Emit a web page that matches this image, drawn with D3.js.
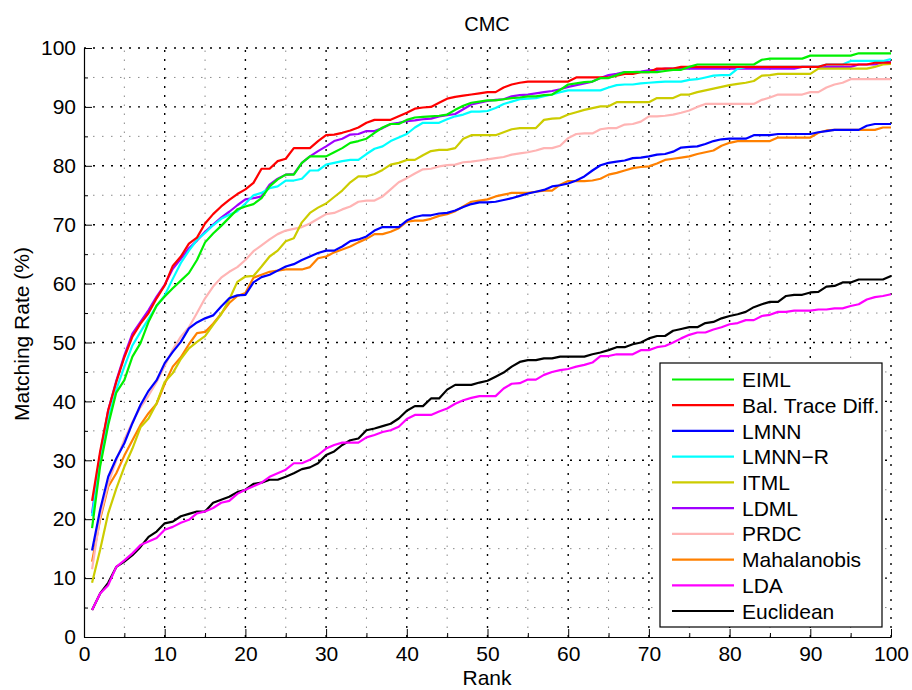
<!DOCTYPE html>
<html><head><meta charset="utf-8">
<script src="https://cdn.jsdelivr.net/npm/d3@7"></script>
<style>body{margin:0;background:#fff;} svg text{font-family:"Liberation Sans",Arial,Helvetica,sans-serif;fill:#000;}</style>
</head><body><svg id="c" width="912" height="690"></svg>
<script>
const ranks = d3.range(1, 101);
const xTickValues = [0,10,20,30,40,50,60,70,80,90,100];
const yTickValues = [0,10,20,30,40,50,60,70,80,90,100];
const minorTickValues = [5,15,25,35,45,55,65,75,85,95];

const EIML = [18.5,29.0,36.0,41.5,43.6,47.6,49.9,53.5,56.3,57.8,
59.2,60.5,61.8,64.0,67.0,68.5,69.8,71.2,72.6,73.1,
73.5,74.5,76.5,77.7,78.5,78.5,80.5,81.6,81.6,81.6,
82.3,83.0,83.9,84.2,84.6,85.6,86.5,87.1,87.1,87.8,
88.2,88.3,88.4,88.5,88.7,89.5,90.2,90.7,90.9,91.1,
91.1,91.3,91.5,91.6,91.8,91.8,92.0,92.1,92.9,93.8,
94.0,94.2,94.3,94.9,94.9,95.4,95.9,95.9,95.9,95.9,
95.9,96.1,96.3,96.3,96.8,97.2,97.2,97.2,97.2,97.2,
97.2,97.2,97.2,98.0,98.2,98.2,98.2,98.2,98.2,98.7,
98.7,98.7,98.7,98.7,98.7,99.1,99.1,99.1,99.1,99.1];
const BalTrace = [23.1,31.5,38.5,43.3,47.5,51.0,53.2,55.0,57.5,59.7,
63.0,64.6,66.8,67.8,70.2,71.8,73.1,74.2,75.2,76.0,
77.1,79.5,79.5,80.8,81.2,83.0,83.0,83.0,84.2,85.2,
85.3,85.6,86.0,86.5,87.3,87.8,87.8,87.8,88.4,89.0,
89.7,89.9,90.0,90.7,91.4,91.7,91.9,92.1,92.3,92.5,
92.5,93.3,93.8,94.1,94.3,94.3,94.3,94.3,94.3,94.3,
95.0,95.0,95.0,95.0,95.0,95.3,95.6,95.6,95.9,95.9,
96.5,96.5,96.5,96.8,96.8,96.8,96.8,96.8,96.8,96.8,
96.8,96.8,96.8,96.8,96.8,96.8,96.8,96.8,96.8,96.8,
96.8,97.2,97.2,97.2,97.2,97.2,97.2,97.5,97.5,97.5];
const LMNN = [14.7,21.6,27.2,30.3,32.9,36.3,39.4,41.8,43.6,46.5,
48.4,50.1,52.4,53.4,54.1,54.6,56.1,57.5,58.0,58.1,
60.2,61.1,61.5,62.2,62.9,63.3,64.0,64.6,65.2,65.6,
65.6,66.3,67.2,67.5,68.0,69.0,69.6,69.6,69.6,70.7,
71.3,71.6,71.6,71.9,72.0,72.4,73.0,73.5,73.8,73.8,
73.9,74.2,74.5,74.9,75.3,75.6,75.9,76.5,76.7,77.0,
77.5,78.2,79.2,80.1,80.5,80.7,80.9,81.3,81.4,81.6,
81.9,82.0,82.4,83.1,83.2,83.3,83.7,84.2,84.5,84.6,
84.6,84.6,85.2,85.2,85.2,85.4,85.4,85.4,85.4,85.4,
85.7,85.9,86.1,86.1,86.1,86.1,86.8,87.1,87.1,87.1];
const LMNNR = [20.5,30.0,37.0,42.0,45.9,49.5,51.8,54.0,56.2,58.0,
60.8,63.5,65.6,67.4,68.6,69.9,71.0,71.7,72.3,73.6,
75.0,75.4,76.2,76.5,77.5,77.5,77.8,79.2,79.2,80.2,
80.5,80.8,81.0,81.0,82.0,82.9,83.3,84.2,84.8,85.4,
86.5,87.3,87.3,87.3,87.9,88.4,88.7,89.2,89.2,89.3,
89.8,90.5,90.9,91.3,91.4,91.5,91.8,92.1,92.5,92.8,
92.8,92.8,92.8,92.8,93.3,93.7,93.8,93.8,94.0,94.1,
94.2,94.3,94.3,94.3,94.6,94.7,95.0,95.3,95.4,95.4,
96.5,96.8,96.8,96.8,96.8,96.8,96.8,96.8,96.8,96.8,
96.8,97.2,97.2,97.2,97.8,97.8,97.8,97.8,97.8,98.1];
const ITML = [9.2,14.8,21.0,25.2,28.9,32.0,35.6,37.1,39.7,43.3,
44.8,47.2,49.0,50.1,51.1,53.0,54.8,57.3,60.3,61.2,
61.3,62.9,64.6,65.6,67.2,67.7,70.4,72.0,72.9,73.6,
74.7,75.8,77.2,78.2,78.2,78.6,79.3,80.2,80.5,81.0,
81.0,81.8,82.5,82.7,82.7,83.0,84.6,85.2,85.2,85.2,
85.2,85.7,86.2,86.4,86.4,86.4,87.8,88.0,88.1,88.7,
89.1,89.5,89.8,90.1,90.1,90.8,90.8,90.8,90.8,90.8,
91.5,91.5,91.5,92.1,92.1,92.5,92.8,93.1,93.4,93.7,
93.9,94.1,94.4,95.3,95.4,95.6,95.6,95.6,95.6,95.6,
96.5,96.5,96.5,96.5,96.5,96.5,96.5,96.8,97.2,97.3];
const LDML = [21.0,31.0,38.5,43.5,47.8,51.5,53.5,55.5,57.8,59.8,
62.5,64.2,66.0,67.3,68.8,70.0,71.2,72.2,73.3,74.3,
74.5,74.8,76.8,77.8,78.5,78.6,80.5,81.6,82.5,83.3,
84.2,84.6,85.3,85.4,85.9,85.9,86.4,87.1,87.3,87.6,
87.7,87.9,88.0,88.4,88.6,88.8,89.6,90.4,90.7,91.0,
91.2,91.3,91.8,92.0,92.1,92.3,92.5,92.7,93.0,93.4,
93.7,94.0,94.3,94.9,95.4,95.6,95.9,95.9,96.0,96.2,
96.3,96.5,96.5,96.5,96.5,96.5,96.5,96.5,96.5,96.5,
96.5,96.5,96.5,96.5,96.5,96.5,96.5,96.5,96.8,96.8,
96.8,96.8,96.8,96.8,96.8,97.2,97.2,97.2,97.6,97.6];
const PRDC = [11.5,20.5,26.0,30.0,33.5,36.5,39.0,41.0,43.3,46.0,
48.8,51.0,52.6,55.0,57.5,59.5,61.0,62.0,62.8,64.0,
65.5,66.5,67.5,68.4,69.0,69.3,69.6,70.2,71.0,71.8,
72.0,72.6,73.1,73.9,74.1,74.1,74.8,76.0,77.2,77.9,
78.7,79.4,79.5,79.9,80.1,80.2,80.6,80.7,80.9,81.1,
81.3,81.5,81.9,82.1,82.3,82.6,83.0,83.0,83.4,84.7,
85.4,85.5,85.5,86.2,86.4,86.4,87.0,87.1,87.5,88.4,
88.4,88.5,88.7,89.0,89.4,90.0,90.5,90.5,90.5,90.5,
90.5,90.5,90.5,91.2,91.6,92.1,92.1,92.1,92.1,92.5,
92.5,93.3,93.8,94.1,94.7,94.7,94.7,94.7,94.7,94.7];
const Mahalanobis = [12.8,20.0,25.5,27.8,30.8,33.4,36.0,38.0,39.6,43.0,
45.9,47.5,49.7,51.6,51.8,53.2,54.9,56.7,57.9,58.4,
61.0,61.5,62.0,62.2,62.4,62.4,62.4,62.8,64.3,64.6,
65.3,65.8,66.3,67.0,67.6,68.4,68.4,68.8,69.4,70.5,
70.7,70.7,71.0,71.5,71.8,72.3,73.1,73.9,74.1,74.3,
74.8,75.1,75.4,75.4,75.4,75.6,75.8,75.8,76.8,77.4,
77.4,77.4,77.5,77.8,78.5,78.8,79.2,79.6,79.8,79.9,
80.4,81.0,81.2,81.4,81.6,82.0,82.3,82.6,83.4,83.9,
84.2,84.2,84.2,84.2,84.2,84.8,84.8,84.8,84.8,84.8,
85.6,86.0,86.1,86.1,86.1,86.1,86.1,86.1,86.5,86.5];
const LDA = [4.6,7.4,8.8,11.9,13.0,14.2,15.6,16.2,16.8,18.2,
18.7,19.4,19.9,21.0,21.3,21.9,22.8,23.1,24.3,25.0,
25.6,26.2,27.2,27.8,28.4,29.5,29.5,30.1,30.9,32.0,
32.6,33.0,33.0,33.0,33.9,34.3,34.8,35.1,35.7,37.0,
37.7,37.7,37.7,38.3,38.8,39.6,40.2,40.6,40.9,40.9,
40.9,42.2,43.0,43.1,43.7,43.7,44.5,45.0,45.3,45.5,
45.9,46.2,46.6,47.7,47.7,48.0,48.0,48.0,48.7,48.7,
49.2,49.4,50.0,50.7,51.3,51.7,51.7,52.2,52.6,53.1,
53.3,53.8,53.8,54.5,54.7,55.2,55.2,55.4,55.4,55.4,
55.6,55.6,55.8,55.8,56.2,56.5,57.3,57.7,57.9,58.2];
const Euclidean = [4.6,7.4,9.2,11.9,12.8,13.9,15.3,17.0,17.9,19.3,
19.6,20.5,20.9,21.3,21.3,22.8,23.3,23.8,24.6,25.0,
26.0,26.2,26.7,26.7,27.2,27.8,28.5,28.8,29.5,30.9,
31.5,32.6,33.4,33.7,35.1,35.4,35.8,36.2,37.1,38.4,
39.2,39.2,40.5,40.5,42.0,42.8,42.8,42.8,43.2,43.5,
44.2,44.9,45.9,46.7,47.0,47.0,47.3,47.3,47.6,47.6,
47.6,47.6,48.0,48.3,48.7,49.2,49.2,49.7,50.0,50.7,
51.1,51.1,52.0,52.3,52.6,52.6,53.3,53.5,54.1,54.5,
54.8,55.2,56.0,56.5,56.9,56.9,57.9,58.1,58.1,58.5,
58.6,59.5,59.6,60.2,60.2,60.7,60.7,60.7,60.7,61.3];

const seriesNames = ["EIML","Bal. Trace Diff.","LMNN","LMNN\u2212R","ITML","LDML","PRDC","Mahalanobis","LDA","Euclidean"];
const seriesValues = [EIML, BalTrace, LMNN, LMNNR, ITML, LDML, PRDC, Mahalanobis, LDA, Euclidean];
const seriesColors = ["#00f000","#ff0000","#0000ff","#00ffff","#cccc00","#a000ff","#ffb4b4","#ff8000","#ff00ff","#000000"];

const svg = d3.select("#c");
const x = d3.scaleLinear().domain([0, 100]).range([84, 891]);
const y = d3.scaleLinear().domain([0, 100]).range([637, 48]);
const FS = 21;

// grid: minor
const grid = svg.append("g");
grid.selectAll("line.mx").data(minorTickValues).join("line").attr("class","mx")
  .attr("x1", d => x(d)).attr("x2", d => x(d)).attr("y1", y(0)).attr("y2", y(100))
  .attr("stroke", "#8a8a8a").attr("stroke-width", 1).attr("stroke-dasharray", "1.5,7.5");
grid.selectAll("line.my").data(minorTickValues).join("line").attr("class","my")
  .attr("y1", d => y(d)).attr("y2", d => y(d)).attr("x1", x(0)).attr("x2", x(100))
  .attr("stroke", "#8a8a8a").attr("stroke-width", 1).attr("stroke-dasharray", "1.5,7.5");
// grid: major
grid.selectAll("line.gx").data(xTickValues.slice(1)).join("line").attr("class","gx")
  .attr("x1", d => x(d)).attr("x2", d => x(d)).attr("y1", y(0)).attr("y2", y(100))
  .attr("stroke", "#000").attr("stroke-width", 1.4).attr("stroke-dasharray", "2,7");
grid.selectAll("line.gy").data(yTickValues.slice(1)).join("line").attr("class","gy")
  .attr("y1", d => y(d)).attr("y2", d => y(d)).attr("x1", x(0)).attr("x2", x(100))
  .attr("stroke", "#000").attr("stroke-width", 1.4).attr("stroke-dasharray", "2,7");

// lines (reverse legend order so EIML on top)
const line = d3.line().x((d, i) => x(ranks[i])).y(d => y(d));
const order = d3.range(seriesValues.length).reverse();
svg.append("g").selectAll("path").data(order).join("path")
  .attr("d", i => line(seriesValues[i]))
  .attr("fill", "none").attr("stroke", i => seriesColors[i])
  .attr("stroke-width", 2.2).attr("stroke-linejoin", "round");

// axes
svg.append("g").attr("transform", `translate(0,${y(0)})`)
  .call(d3.axisBottom(x).tickValues(xTickValues).tickFormat(d3.format("d")).tickSizeInner(-8).tickSizeOuter(0).tickPadding(9));
const xMinor = svg.append("g").attr("transform", `translate(0,${y(0)})`)
  .call(d3.axisBottom(x).tickValues(minorTickValues).tickFormat("").tickSizeInner(-4).tickSizeOuter(0));
svg.append("g").attr("transform", `translate(${x(0)},0)`)
  .call(d3.axisLeft(y).tickValues(yTickValues).tickFormat(d3.format("d")).tickSizeInner(-8).tickSizeOuter(0).tickPadding(8));
const yMinor = svg.append("g").attr("transform", `translate(${x(0)},0)`)
  .call(d3.axisLeft(y).tickValues(minorTickValues).tickFormat("").tickSizeInner(-4).tickSizeOuter(0));
xMinor.select(".domain").remove();
yMinor.select(".domain").remove();
svg.selectAll(".domain").attr("stroke", "#000").attr("stroke-width", 1.2);
svg.selectAll(".tick line").attr("stroke", "#000");
svg.selectAll(".tick text").attr("font-size", FS).attr("font-family", "Liberation Sans, Arial, sans-serif");

// titles
svg.append("text").attr("x", 487).attr("y", 31).attr("text-anchor", "middle").attr("font-size", FS - 1).text("CMC");
svg.append("text").attr("x", 487).attr("y", 685).attr("text-anchor", "middle").attr("font-size", FS).text("Rank");
svg.append("text").attr("transform", "translate(29,334) rotate(-90)").attr("text-anchor", "middle").attr("font-size", FS).text("Matching Rate (%)");

// legend
const lg = svg.append("g");
lg.append("rect").attr("x", 660).attr("y", 363).attr("width", 222).attr("height", 264)
  .attr("fill", "#fff").attr("stroke", "#000").attr("stroke-width", 1.2);
const ly = d3.scaleLinear().domain([0, 9]).range([379.5, 611]);
const items = lg.selectAll("g.it").data(seriesNames).join("g").attr("class", "it");
items.append("line").attr("x1", 672).attr("x2", 734).attr("y1", (d, i) => ly(i)).attr("y2", (d, i) => ly(i))
  .attr("stroke", (d, i) => seriesColors[i]).attr("stroke-width", 2.2);
items.append("text").attr("x", 742).attr("y", (d, i) => ly(i)).attr("dy", "0.36em")
  .attr("font-size", FS).text(d => d);
</script></body></html>
